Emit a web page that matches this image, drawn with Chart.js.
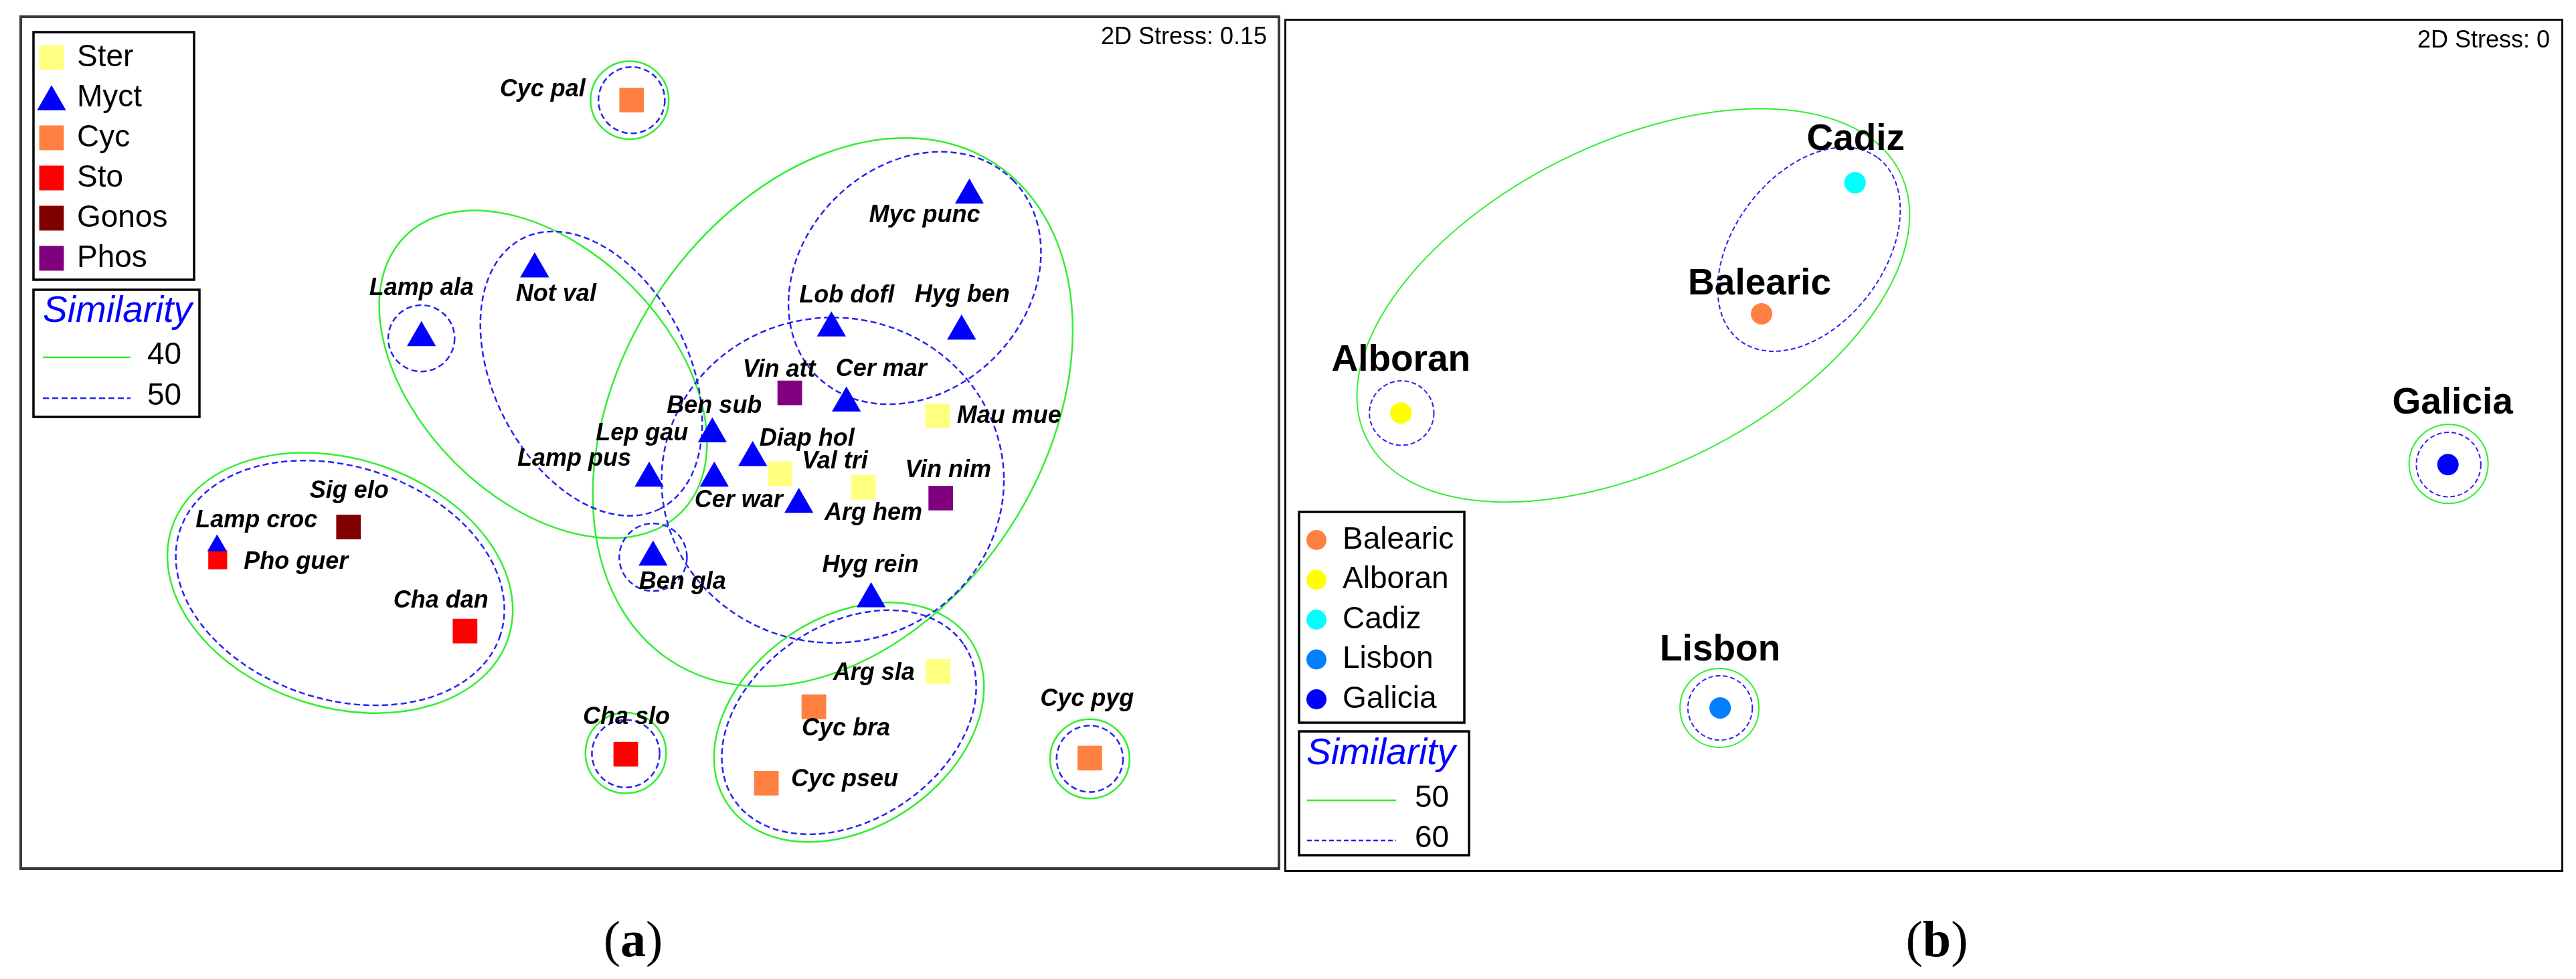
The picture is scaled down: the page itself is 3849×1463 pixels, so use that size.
<!DOCTYPE html>
<html>
<head>
<meta charset="utf-8">
<script src="https://cdn.jsdelivr.net/npm/chart.js@4.4.1/dist/chart.umd.min.js"></script>
<style>
  html, body { margin: 0; padding: 0; background: #fff; }
  body { width: 3849px; height: 1463px; position: relative; overflow: hidden; }
  canvas { position: absolute; }
  #panelA { left: 29px; top: 23px; }
  #panelB { left: 1919px; top: 28px; }
  .caption {
    position: absolute;
    top: 1403px;
    transform: translate(-50%, -50%);
    font-family: "Liberation Serif", "DejaVu Serif", serif;
    font-size: 76px;
    color: #000;
  }
</style>
</head>
<body>
<canvas id="panelA" width="1884" height="1277"></canvas>
<canvas id="panelB" width="1911" height="1275"></canvas>
<div class="caption" style="left:946px">(<b>a</b>)</div>
<div class="caption" style="left:2894px">(<b>b</b>)</div>
<script>
// ---------- panel (a): species nMDS ----------
const groups = ["Ster", "Myct", "Cyc", "Sto", "Gonos", "Phos"];
const speciesNames = [
  "Val tri", "Arg hem", "Mau mue", "Arg sla",
  "Myc punc", "Not val", "Lamp ala", "Lob dofl", "Hyg ben", "Cer mar", "Ben sub",
  "Lep gau", "Lamp pus", "Diap hol", "Cer war", "Ben gla", "Hyg rein", "Lamp croc",
  "Cyc pal", "Cyc bra", "Cyc pseu", "Cyc pyg",
  "Pho guer", "Cha dan", "Cha slo",
  "Sig elo",
  "Vin att", "Vin nim"
];
const speciesGroup = [
  "Ster", "Ster", "Ster", "Ster",
  "Myct", "Myct", "Myct", "Myct", "Myct", "Myct", "Myct",
  "Myct", "Myct", "Myct", "Myct", "Myct", "Myct", "Myct",
  "Cyc", "Cyc", "Cyc", "Cyc",
  "Sto", "Sto", "Sto",
  "Gonos",
  "Phos", "Phos"
];
const speciesX = [
  11.42, 12.70, 13.84, 13.85,
  14.33, 7.65, 5.91, 12.21, 14.21, 12.44, 10.38,
  10.41, 9.41, 11.00, 11.71, 9.47, 12.82, 2.77,
  9.14, 11.94, 11.21, 16.18,
  2.78, 6.58, 9.05,
  4.79,
  11.57, 13.89
];
const speciesY = [
  5.90, 5.69, 6.80, 2.82,
  10.24, 9.09, 8.02, 8.17, 8.12, 7.00, 6.52,
  5.83, 5.83, 6.15, 5.42, 4.60, 3.95, 4.78,
  11.72, 2.27, 1.08, 1.47,
  4.56, 3.45, 1.53,
  5.07,
  7.16, 5.52
];
// similarity contours: [centreX, centreY, semiAxisA, semiAxisB, angleDeg]
const simA40 = [
  [9.11, 11.72, 0.60, 0.60, 0],
  [7.78, 7.45, 3.00, 1.92, -45],
  [12.23, 6.86, 4.56, 3.25, 57],
  [4.66, 4.20, 2.72, 1.91, -18],
  [12.48, 2.03, 2.25, 1.62, 34],
  [9.05, 1.55, 0.62, 0.62, 0],
  [16.18, 1.46, 0.61, 0.61, 0]
];
const simA50 = [
  [9.14, 11.72, 0.51, 0.51, 0],
  [5.91, 8.01, 0.51, 0.51, 0],
  [8.52, 7.46, 2.33, 1.50, -63],
  [13.49, 8.95, 2.13, 1.73, 45],
  [12.23, 5.80, 2.63, 2.50, 0],
  [9.47, 4.60, 0.52, 0.52, 0],
  [4.66, 4.20, 2.59, 1.79, -18],
  [12.48, 2.03, 2.13, 1.50, 34],
  [9.05, 1.54, 0.52, 0.52, 0],
  [16.18, 1.46, 0.51, 0.51, 0]
];

// ---------- panel (b): sites nMDS ----------
const sites = ["Balearic", "Alboran", "Cadiz", "Lisbon", "Galicia"];
const siteX = [7.09, 1.61, 8.51, 6.46, 17.52];
const siteY = [8.39, 6.87, 10.40, 2.35, 6.08];
const simB50 = [
  [5.14, 8.52, 4.53, 2.46, 26.5],
  [17.53, 6.09, 0.60, 0.60, 0],
  [6.45, 2.35, 0.60, 0.60, 0]
];
const simB60 = [
  [7.81, 9.38, 1.74, 1.14, 53],
  [1.62, 6.87, 0.49, 0.49, 0],
  [17.53, 6.08, 0.49, 0.49, 0],
  [6.46, 2.35, 0.49, 0.49, 0]
];

// ---------- styles / layout ----------
const FONT = '"Liberation Sans", Arial, Helvetica, sans-serif';
const GREEN = "#33ee33";
const BLUE = "#2424f0";
const groupColors = {
  Ster: "#ffff80", Myct: "#0000ff", Cyc: "#ff8040",
  Sto: "#ff0000", Gonos: "#800000", Phos: "#800080"
};
const siteColors = {
  Balearic: "#ff8040", Alboran: "#ffff00", Cadiz: "#00ffff",
  Lisbon: "#0080ff", Galicia: "#0000ff"
};
const smallMarkers = ["Lamp croc", "Pho guer"];

// label centre offset from its point, in pixels
const labelOffsetsA = {
  "Val tri": [82, -18], "Arg hem": [15, 39], "Mau mue": [107, 0], "Arg sla": [-96, 3],
  "Myc punc": [-67, 30], "Not val": [32, 38], "Lamp ala": [0, -74], "Lob dofl": [23, -48],
  "Hyg ben": [1, -54], "Cer mar": [52, -50], "Ben sub": [3, -41], "Lep gau": [-108, -67],
  "Lamp pus": [-112, -29], "Diap hol": [81, -28], "Cer war": [-90, -6], "Ben gla": [44, 37],
  "Hyg rein": [-1, -50], "Lamp croc": [59, -37], "Cyc pal": [-133, -16], "Cyc bra": [48, 33],
  "Cyc pseu": [117, -5], "Cyc pyg": [-4, -88], "Pho guer": [117, 4], "Cha dan": [-36, -45],
  "Cha slo": [1, -55], "Sig elo": [1, -54], "Vin att": [-16, -34], "Vin nim": [11, -41]
};
const labelOffsetsB = {
  Cadiz: [1, -64], Balearic: [-3, -44], Alboran: [0, -78], Galicia: [7, -91], Lisbon: [0, -86]
};

// draws the same shapes Chart.js uses for its point styles
function drawMarker(ctx, style, x, y, r, color) {
  ctx.fillStyle = color;
  ctx.beginPath();
  if (style === "rect") {
    const s = Math.SQRT1_2 * r;
    ctx.rect(x - s, y - s, 2 * s, 2 * s);
  } else if (style === "triangle") {
    ctx.moveTo(x, y - r);
    ctx.lineTo(x + r * Math.sin(2 * Math.PI / 3), y + r / 2);
    ctx.lineTo(x - r * Math.sin(2 * Math.PI / 3), y + r / 2);
    ctx.closePath();
  } else {
    ctx.arc(x, y, r, 0, Math.PI * 2);
  }
  ctx.fill();
}

function strokeContours(ctx, xs, ys, list, color, width, dash) {
  const unit = xs.getPixelForValue(1) - xs.getPixelForValue(0);
  ctx.strokeStyle = color;
  ctx.lineWidth = width;
  ctx.setLineDash(dash);
  list.forEach(function (c) {
    ctx.beginPath();
    ctx.ellipse(xs.getPixelForValue(c[0]), ys.getPixelForValue(c[1]),
      c[2] * unit, c[3] * unit, -c[4] * Math.PI / 180, 0, Math.PI * 2);
    ctx.stroke();
  });
  ctx.setLineDash([]);
}

function drawSimilarityBox(ctx, box, levels, dash) {
  ctx.lineWidth = 3.5;
  ctx.strokeStyle = "#000";
  ctx.strokeRect(box.x, box.y, box.w, box.h);
  ctx.textAlign = "left";
  ctx.textBaseline = "middle";
  ctx.fillStyle = "#0000ff";
  ctx.font = "italic 55px " + FONT;
  ctx.fillText("Similarity", box.titleX, box.titleY);
  ctx.font = "46px " + FONT;
  ctx.fillStyle = "#000";
  [GREEN, BLUE].forEach(function (col, i) {
    const ly = box.lineY[i];
    ctx.strokeStyle = col;
    ctx.lineWidth = 2.5;
    ctx.setLineDash(i === 1 ? dash : []);
    ctx.beginPath();
    ctx.moveTo(box.lineX0, ly);
    ctx.lineTo(box.lineX1, ly);
    ctx.stroke();
    ctx.setLineDash([]);
    ctx.fillText(levels[i], box.numX, ly - 3);
  });
}

function decorPlugin(cfg) {
  return {
    id: "decor" + cfg.key,
    beforeDatasetsDraw(chart) {
      const ctx = chart.ctx;
      ctx.save();
      strokeContours(ctx, chart.scales.x, chart.scales.y, cfg.outer, GREEN, cfg.lineWidth, []);
      strokeContours(ctx, chart.scales.x, chart.scales.y, cfg.inner, BLUE, cfg.lineWidth, cfg.dash);
      ctx.restore();
    },
    afterDatasetsDraw(chart) {
      const ctx = chart.ctx;
      const w = chart.width, h = chart.height;
      ctx.save();

      // point labels
      ctx.font = cfg.labelFont;
      ctx.fillStyle = "#000";
      ctx.textAlign = "center";
      ctx.textBaseline = "middle";
      chart.data.datasets.forEach(function (ds, i) {
        chart.getDatasetMeta(i).data.forEach(function (el, j) {
          const name = ds.data[j].name;
          const off = cfg.offsets[name] || [0, -40];
          ctx.fillText(name, el.x + off[0], el.y + off[1]);
        });
      });

      // group legend
      const lg = cfg.legend;
      ctx.lineWidth = 3.5;
      ctx.strokeStyle = "#000";
      ctx.strokeRect(lg.x, lg.y, lg.w, lg.h);
      ctx.font = "46px " + FONT;
      ctx.textAlign = "left";
      chart.data.datasets.forEach(function (ds, i) {
        const cy = lg.row0 + i * lg.step;
        const r = lg.markerR[ds.pointStyle];
        const my = ds.pointStyle === "triangle" ? cy + r / 4 : cy;
        drawMarker(ctx, ds.pointStyle, lg.markerX, my, r, ds.backgroundColor);
        ctx.fillStyle = "#000";
        ctx.fillText(ds.label, lg.textX, cy);
      });

      drawSimilarityBox(ctx, cfg.simBox, cfg.levels, cfg.dash);

      // stress value
      ctx.font = "36px " + FONT;
      ctx.fillStyle = "#000";
      ctx.textAlign = "right";
      ctx.textBaseline = "middle";
      ctx.fillText(cfg.stress, w - 20, 33);

      // frame
      ctx.lineWidth = cfg.borderWidth;
      ctx.strokeStyle = cfg.borderColor;
      ctx.strokeRect(cfg.borderWidth / 2, cfg.borderWidth / 2, w - cfg.borderWidth, h - cfg.borderWidth);
      ctx.restore();
    }
  };
}

function baseOptions(xMax, yMax) {
  return {
    responsive: false,
    animation: false,
    devicePixelRatio: 1,
    events: [],
    layout: { padding: 0 },
    plugins: { legend: { display: false }, tooltip: { enabled: false } },
    scales: {
      x: { type: "linear", min: 0, max: xMax, display: false },
      y: { type: "linear", min: 0, max: yMax, display: false }
    }
  };
}

// panel (a)
const speciesDatasets = groups.map(function (g) {
  const pts = [];
  speciesNames.forEach(function (n, i) {
    if (speciesGroup[i] === g) pts.push({ name: n, x: speciesX[i], y: speciesY[i] });
  });
  const style = g === "Myct" ? "triangle" : "rect";
  return {
    label: g,
    data: pts,
    pointStyle: style,
    backgroundColor: groupColors[g],
    borderWidth: 0,
    pointRadius: function (c) {
      const small = c.raw && smallMarkers.indexOf(c.raw.name) >= 0;
      if (style === "triangle") return small ? 17 : 25;
      return small ? 20 : 26;
    }
  };
});

new Chart(document.getElementById("panelA").getContext("2d"), {
  type: "scatter",
  data: { datasets: speciesDatasets },
  options: baseOptions(18.84, 12.77),
  plugins: [decorPlugin({
    key: "A",
    outer: simA40,
    inner: simA50,
    lineWidth: 2.5,
    dash: [9, 5],
    labelFont: "bold italic 36px " + FONT,
    offsets: labelOffsetsA,
    legend: { x: 21, y: 25, w: 240, h: 370, row0: 63, step: 60, markerX: 48, textX: 86,
              markerR: { rect: 26, triangle: 25 } },
    simBox: { x: 21, y: 410, w: 248, h: 190, titleX: 35, titleY: 443,
              lineX0: 35, lineX1: 166, lineY: [511, 572], numX: 191 },
    levels: ["40", "50"],
    stress: "2D Stress: 0.15",
    borderWidth: 4,
    borderColor: "#3a3a3a"
  })]
});

// panel (b)
const siteDatasets = sites.map(function (s, i) {
  return {
    label: s,
    data: [{ name: s, x: siteX[i], y: siteY[i] }],
    pointStyle: "circle",
    backgroundColor: siteColors[s],
    borderWidth: 0,
    pointRadius: 16
  };
});

new Chart(document.getElementById("panelB").getContext("2d"), {
  type: "scatter",
  data: { datasets: siteDatasets },
  options: baseOptions(19.11, 12.75),
  plugins: [decorPlugin({
    key: "B",
    outer: simB50,
    inner: simB60,
    lineWidth: 2,
    dash: [7, 4],
    labelFont: "bold 55px " + FONT,
    offsets: labelOffsetsB,
    legend: { x: 22, y: 737, w: 247, h: 315, row0: 779, step: 59.5, markerX: 48, textX: 87,
              markerR: { circle: 15 } },
    simBox: { x: 22, y: 1065, w: 254, h: 185, titleX: 33, titleY: 1099,
              lineX0: 34, lineX1: 167, lineY: [1168, 1228], numX: 195 },
    levels: ["50", "60"],
    stress: "2D Stress: 0",
    borderWidth: 3,
    borderColor: "#111"
  })]
});
</script>
</body>
</html>
